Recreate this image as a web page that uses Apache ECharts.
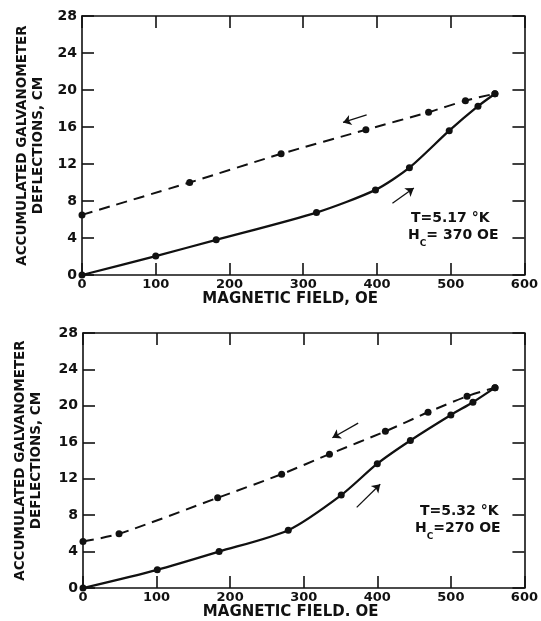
<!DOCTYPE html>
<html>
<head>
<meta charset="utf-8">
<script src="https://cdn.jsdelivr.net/npm/echarts@6/dist/echarts.min.js"></script>
<style>
  html, body { margin: 0; padding: 0; background: #fff; }
  #chart { width: 541px; height: 621px; }
</style>
</head>
<body>
<div id="chart"></div>
<script>
// tick values
var xTicks = [0, 100, 200, 300, 400, 500, 600];
var yTicks = [0, 4, 8, 12, 16, 20, 24, 28];

// upper panel, T = 5.17 K
var topUpX = [0, 100, 182, 318, 398, 444, 498, 537, 560];
var topUpY = [0, 2.05, 3.8, 6.75, 9.2, 11.6, 15.6, 18.25, 19.6];
var topDownX = [0, 146, 270, 385, 470, 520, 560];
var topDownY = [6.5, 10.0, 13.1, 15.7, 17.6, 18.85, 19.6];

// lower panel, T = 5.32 K
var botUpX = [0, 101, 185, 279, 351, 400, 445, 500, 530, 560];
var botUpY = [0, 2.0, 4.0, 6.35, 10.2, 13.65, 16.2, 19.0, 20.4, 22.0];
var botDownX = [0, 49, 183, 270, 335, 411, 469, 522, 560];
var botDownY = [5.1, 5.95, 9.9, 12.5, 14.7, 17.2, 19.3, 21.05, 22.0];

// direction arrows [x1, y1, x2, y2] in data units
var topArrows = [[386, 17.3, 354, 16.5], [421, 7.75, 450, 9.4]];
var botArrows = [[374, 18.1, 339, 16.5], [372, 8.85, 404, 11.4]];

var ink = "#111";
var font = "DejaVu Sans";

function zip(xs, ys) {
  return xs.map(function (x, i) { return [x, ys[i]]; });
}

function arrowData(list) {
  return list.map(function (a) {
    return [{ coord: [a[0], a[1]] }, { coord: [a[2], a[3]] }];
  });
}

function xAx(grid, pos, name, gap) {
  return {
    type: "value",
    gridIndex: grid,
    position: pos,
    min: xTicks[0],
    max: xTicks[xTicks.length - 1],
    interval: xTicks[1] - xTicks[0],
    name: name,
    nameLocation: "middle",
    nameGap: gap,
    nameTextStyle: { color: ink, fontFamily: font, fontSize: 15, fontWeight: "bold", padding: [0, 26, 0, 0] },
    axisLine: { show: true, onZero: false, lineStyle: { color: ink, width: 1.6 } },
    axisTick: { show: true, inside: true, length: 12, lineStyle: { color: ink, width: 1.6 } },
    axisLabel: { show: pos === "bottom", color: ink, fontFamily: font, fontSize: 13, fontWeight: "bold", margin: 3 },
    splitLine: { show: false },
  };
}

function yAx(grid, pos, gap) {
  return {
    type: "value",
    gridIndex: grid,
    position: pos,
    min: yTicks[0],
    max: yTicks[yTicks.length - 1],
    interval: yTicks[1] - yTicks[0],
    name: pos === "left" ? "ACCUMULATED GALVANOMETER\nDEFLECTIONS, CM" : "",
    nameLocation: "middle",
    nameGap: gap,
    nameTextStyle: { color: ink, fontFamily: font, fontSize: 13.5, fontWeight: "bold", lineHeight: 16 },
    axisLine: { show: true, onZero: false, lineStyle: { color: ink, width: 1.6 } },
    axisTick: { show: true, inside: true, length: 12, lineStyle: { color: ink, width: 1.6 } },
    axisLabel: { show: pos === "left", color: ink, fontFamily: font, fontSize: 14, fontWeight: "bold", margin: 5 },
    splitLine: { show: false },
  };
}

function curve(xi, yi, xs, ys, dashed, arrows) {
  var s = {
    type: "line",
    xAxisIndex: xi,
    yAxisIndex: yi,
    data: zip(xs, ys),
    smooth: 0.25,
    symbol: "circle",
    symbolSize: 7,
    itemStyle: { color: ink },
    lineStyle: { color: ink, width: dashed ? 2 : 2.3, type: dashed ? [11, 7] : "solid" },
    z: 3,
  };
  if (arrows) {
    s.markLine = {
      silent: true,
      symbol: ["none", "arrow"],
      symbolSize: 8,
      label: { show: false },
      lineStyle: { color: ink, width: 1.3, type: "solid" },
      data: arrowData(arrows),
    };
  }
  return s;
}

var hcRich = {
  n: { fontSize: 14, fontWeight: "bold", fontFamily: font, lineHeight: 20, verticalAlign: "top" },
  s: { fontSize: 9, fontWeight: "bold", fontFamily: font, lineHeight: 20, verticalAlign: "bottom" },
};

var myChart = echarts.init(document.getElementById("chart"));
var option;

option = {
  backgroundColor: "#fff",
  animation: false,
  grid: [
    { left: 82, top: 16, width: 444, height: 259 },
    { left: 83, top: 333, width: 444, height: 255 },
  ],
  xAxis: [
    xAx(0, "bottom", "MAGNETIC FIELD, OE", 17),
    xAx(0, "top", "", 0),
    xAx(1, "bottom", "MAGNETIC FIELD. OE", 13),
    xAx(1, "top", "", 0),
  ],
  yAxis: [
    yAx(0, "left", 36),
    yAx(0, "right", 0),
    yAx(1, "left", 39),
    yAx(1, "right", 0),
  ],
  graphic: [
    {
      type: "text", left: 411, top: 211,
      style: { text: "T=5.17 °K", fill: ink, font: "bold 14px " + font },
    },
    {
      type: "text", left: 408, top: 228,
      style: { text: "{n|H}{s|C}{n|= 370 OE}", fill: ink, font: "bold 14px " + font, rich: hcRich },
    },
    {
      type: "text", left: 420, top: 504,
      style: { text: "T=5.32 °K", fill: ink, font: "bold 14px " + font },
    },
    {
      type: "text", left: 415, top: 521,
      style: { text: "{n|H}{s|C}{n|=270 OE}", fill: ink, font: "bold 14px " + font, rich: hcRich },
    },
  ],
  series: [
    curve(0, 0, topUpX, topUpY, false, topArrows),
    curve(0, 0, topDownX, topDownY, true, null),
    curve(2, 2, botUpX, botUpY, false, botArrows),
    curve(2, 2, botDownX, botDownY, true, null),
  ],
};

option && myChart.setOption(option);
</script>
</body>
</html>
